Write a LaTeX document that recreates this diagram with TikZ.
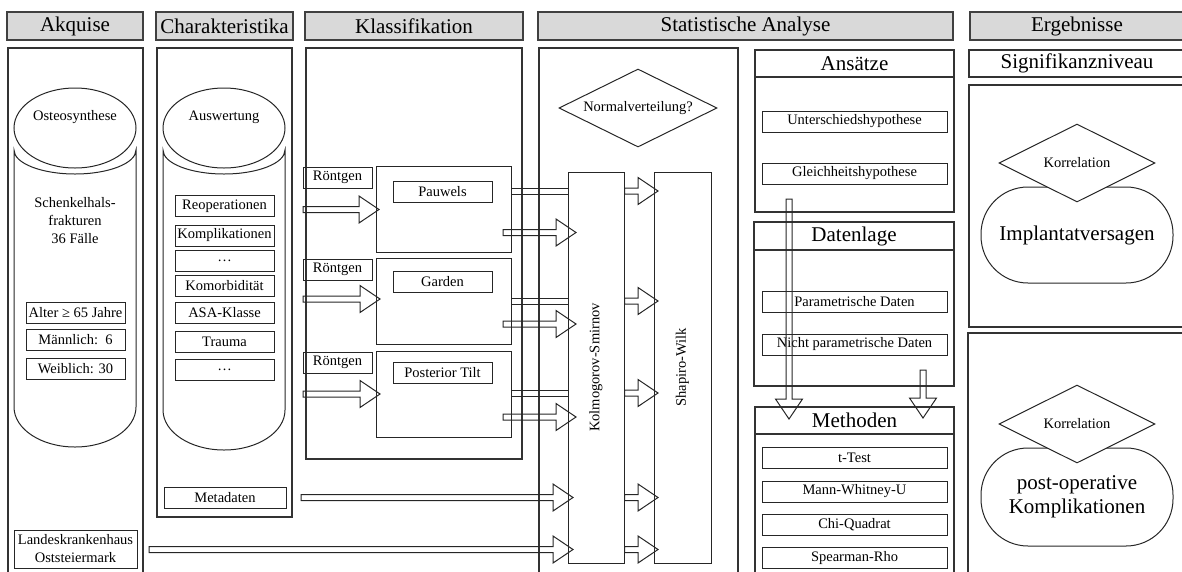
\documentclass[tikz,border=0pt]{standalone}
\usepackage{fontspec}
\setmainfont{Liberation Serif}
\usetikzlibrary{shapes.geometric,calc}

\newcommand{\hdrfont}{\fontsize{21}{24}\selectfont}
\newcommand{\itmfont}{\fontsize{14.5}{18}\selectfont}

\tikzset{
  hdr/.style = {draw = black!75, fill = black!15, line width = 1.3pt, inner sep = 0pt, minimum height = 28pt, font = \hdrfont},
  panel/.style = {draw = black!80, line width = 1.3pt, inner sep = 0pt},
  subhdr/.style = {draw = black!80, line width = 1.3pt, inner sep = 0pt, font = \hdrfont},
  itm/.style = {draw = black!85, line width = 1pt, inner sep = 0pt, minimum height = 21pt, font = \itmfont},
  hollow/.style = {draw = black!85, line width = 1pt},
  korr/.style = {draw = black!85, diamond, aspect = 2, fill = white, inner sep = 0pt, line width = 1pt, minimum width = 156pt, minimum height = 78pt, font = \itmfont},
  pill/.style = {draw = black!85, rounded corners = 47pt, line width = 1pt, align = center, font = \hdrfont, minimum width = 192pt}
}

% hollow block arrows: tail #1, tip #2
\newcommand{\harrow}[2]{%
  \draw[hollow] let \p1 = (#1), \p2 = (#2) in
    (\x1,\y1+3pt) -- (\x2-20pt,\y1+3pt) -- (\x2-20pt,\y1+13.5pt) -- (\x2,\y1)
    -- (\x2-20pt,\y1-13.5pt) -- (\x2-20pt,\y1-3pt) -- (\x1,\y1-3pt) -- cycle;}
\newcommand{\varrow}[2]{%
  \draw[hollow] let \p1 = (#1), \p2 = (#2) in
    (\x1-3pt,\y1) -- (\x1-3pt,\y2+20pt) -- (\x1-13.5pt,\y2+20pt) -- (\x1,\y2)
    -- (\x1+13.5pt,\y2+20pt) -- (\x1+3pt,\y2+20pt) -- (\x1+3pt,\y1) -- cycle;}
% double line link without head
\newcommand{\bandlink}[2]{%
  \draw[hollow] let \p1 = (#1), \p2 = (#2) in
    (\x1,\y1+3pt) -- (\x2,\y1+3pt) (\x1,\y1-3pt) -- (\x2,\y1-3pt);}

\begin{document}
\begin{tikzpicture}[x = 1pt, y = -1pt]
    \useasboundingbox (0,0) rectangle (1182,571);

    % column headers
    \node[hdr, minimum width = 136] (hAkq) at (75,26) {Akquise};
    \node[hdr, minimum width = 137] (hChar) at (224.5,26) {Charakteristika};
    \node[hdr, minimum width = 218] (hKlass) at (414,26) {Klassifikation};
    \node[hdr, minimum width = 415] (hStat) at (745.5,26) {Statistische Analyse};
    \node[hdr, minimum width = 214] (hErg) at (1077,26) {Ergebnisse};

    % column panels
    \node[panel, minimum width = 135, minimum height = 542] (pAkq) at (75.5,319) {};
    \node[panel, minimum width = 135, minimum height = 469] (pChar) at (224.5,282.5) {};
    \node[panel, minimum width = 216, minimum height = 411] (pKlass) at (414,253.5) {};
    \node[panel, minimum width = 199, minimum height = 542] (pStat) at (638.5,319) {};

    % Akquise
    \node[draw = black!85, ellipse, line width = 1pt, minimum width = 122, minimum height = 80] (ostE) at (75,128) {};
    \node[font = \itmfont] (ost) at (75,117) {Osteosynthese};
    \draw[hollow] (14,150) arc[start angle = 180, end angle = 360, x radius = 61pt, y radius = 24pt]
        -- (136,407) arc[start angle = 0, end angle = -180, x radius = 61pt, y radius = 40pt] -- cycle;
    \node[font = \itmfont, align = center] (schf) at (75,221) {Schenkelhals-\\frakturen\\36 Fälle};
    \node[itm, minimum width = 99] (alter) at (75.5,312.5) {Alter ≥ 65 Jahre};
    \node[itm, minimum width = 99] (maenn) at (75.5,339.5) {Männlich:\enspace 6};
    \node[itm, minimum width = 99] (weib) at (75.5,368.5) {Weiblich: 30};
    \node[itm, minimum width = 123, minimum height = 38, align = center] (lkh) at (75.5,549) {Landeskrankenhaus\\Oststeiermark};

    % Charakteristika
    \node[draw = black!85, ellipse, line width = 1pt, minimum width = 122, minimum height = 80] (ausE) at (224,128) {};
    \node[font = \itmfont] (aus) at (224,117) {Auswertung};
    \draw[hollow] (163,150) arc[start angle = 180, end angle = 360, x radius = 61pt, y radius = 24pt]
        -- (285,410) arc[start angle = 0, end angle = -180, x radius = 61pt, y radius = 40pt] -- cycle;
    \node[itm, minimum width = 99] (reop) at (224.5,206) {Reoperationen};
    \node[itm, minimum width = 99] (kompl) at (224.5,235.5) {Komplikationen};
    \node[itm, minimum width = 99] (dotsA) at (224.5,260.5) {\dots};
    \node[itm, minimum width = 99] (komorb) at (224.5,285.5) {Komorbidität};
    \node[itm, minimum width = 99] (asa) at (224.5,312.5) {ASA-Klasse};
    \node[itm, minimum width = 99] (trauma) at (224.5,341.5) {Trauma};
    \node[itm, minimum width = 99] (dotsB) at (224.5,369.5) {\dots};
    \node[itm, minimum width = 122] (meta) at (225,497.5) {Metadaten};

    % Klassifikation
    \node[itm, minimum width = 69] (roeA) at (337.5,177.5) {Röntgen};
    \node[itm, minimum width = 69] (roeB) at (337.5,269.5) {Röntgen};
    \node[itm, minimum width = 69] (roeC) at (337.5,362.5) {Röntgen};
    \node[itm, minimum width = 135, minimum height = 86] (clsA) at (443.5,209) {};
    \node[itm, minimum width = 135, minimum height = 86] (clsB) at (443.5,301) {};
    \node[itm, minimum width = 135, minimum height = 86] (clsC) at (443.5,394) {};
    \node[itm, minimum width = 99] (pauw) at (442.5,192) {Pauwels};
    \node[itm, minimum width = 99] (gard) at (442.5,281.5) {Garden};
    \node[itm, minimum width = 99] (tilt) at (442.5,372.5) {Posterior Tilt};

    % Statistische Analyse
    \node[draw = black!85, diamond, aspect = 2, inner sep = 0pt, line width = 1pt, minimum width = 158, minimum height = 78, font = \itmfont] (normv) at (638,108) {Normalverteilung?};
    \node[itm, rotate = 90, minimum width = 391, minimum height = 56] (ks) at (596,367.5) {Kolmogorov-Smirnov};
    \node[itm, rotate = 90, minimum width = 391, minimum height = 57] (sw) at (682.5,367.5) {Shapiro-Wilk};

    \node[panel, minimum width = 199, minimum height = 162] (pAns) at (854.5,131) {};
    \node[subhdr, minimum width = 199, minimum height = 27] (hAns) at (854.5,63.5) {Ansätze};
    \node[itm, minimum width = 185] (unter) at (854.5,121.5) {Unterschiedshypothese};
    \node[itm, minimum width = 185] (gleich) at (854.5,173.5) {Gleichheitshypothese};

    \node[panel, minimum width = 200, minimum height = 164] (pDat) at (854,304) {};
    \node[subhdr, minimum width = 200, minimum height = 28] (hDat) at (854,236) {Datenlage};
    \node[itm, minimum width = 185] (param) at (854.5,301.5) {Parametrische Daten};
    \node[itm, minimum width = 185] (nparam) at (854.5,344.5) {Nicht parametrische Daten};

    \node[panel, minimum width = 199, minimum height = 183] (pMeth) at (854.5,498.5) {};
    \node[subhdr, minimum width = 199, minimum height = 27] (hMeth) at (854.5,420.5) {Methoden};
    \node[itm, minimum width = 185] (ttest) at (854.5,457.5) {t-Test};
    \node[itm, minimum width = 185] (mwu) at (854.5,491.5) {Mann-Whitney-U};
    \node[itm, minimum width = 185] (chi) at (854.5,524.5) {Chi-Quadrat};
    \node[itm, minimum width = 185] (spear) at (854.5,558) {Spearman-Rho};

    % Ergebnisse
    \node[subhdr, minimum width = 216, minimum height = 27] (signif) at (1077,63.5) {Signifikanzniveau};
    \node[panel, minimum width = 216, minimum height = 242] (pImpl) at (1077,206) {};
    \node[panel, minimum width = 217, minimum height = 257] (pPost) at (1076.5,461.5) {};
    \node[pill, minimum height = 96] (impl) at (1077,235) {Implantatversagen};
    \node[korr] (korrA) at (1077,163) {Korrelation};
    \node[pill, minimum height = 98] (post) at (1077,497) {post-operative\\Komplikationen};
    \node[korr] (korrB) at (1077,424) {Korrelation};

    % arrow end points
    \coordinate (rA) at (303,209.5);  \coordinate (rAt) at (379,209.5);
    \coordinate (rB) at (303,299);    \coordinate (rBt) at (380,299);
    \coordinate (rC) at (303,394);    \coordinate (rCt) at (380,394);
    \coordinate (oA) at (503,232.5);  \coordinate (oAt) at (576,232.5);
    \coordinate (oB) at (503,324);    \coordinate (oBt) at (576,324);
    \coordinate (oC) at (503,417);    \coordinate (oCt) at (576,417);
    \coordinate (mA) at (301,497.5);  \coordinate (mAt) at (573,497.5);
    \coordinate (lA) at (149,549.5);  \coordinate (lAt) at (573,549.5);
    \coordinate (vA) at (789,199);    \coordinate (vAt) at (789,419);
    \coordinate (vB) at (923,370);    \coordinate (vBt) at (923,418);

    \harrow{rA}{rAt}
    \harrow{rB}{rBt}
    \harrow{rC}{rCt}
    \harrow{oA}{oAt}
    \harrow{oB}{oBt}
    \harrow{oC}{oCt}
    \harrow{mA}{mAt}
    \harrow{lA}{lAt}

    \bandlink{clsA.east |- 0,191}{ks.north |- 0,191}
    \bandlink{clsB.east |- 0,301.5}{ks.north |- 0,301.5}
    \bandlink{clsC.east |- 0,393.5}{ks.north |- 0,393.5}

    \foreach \yy in {191,301,393,497.5,549.5}
        \harrow{ks.south |- 0,\yy}{658,\yy};

    \varrow{vA}{vAt}
    \varrow{vB}{vBt}
\end{tikzpicture}
\end{document}
